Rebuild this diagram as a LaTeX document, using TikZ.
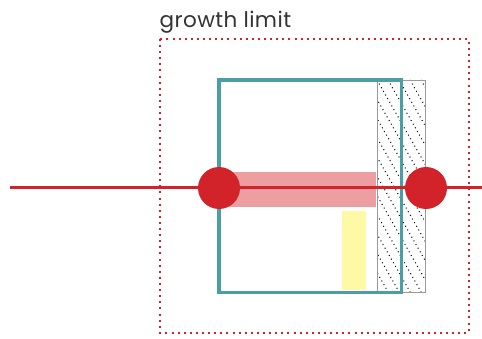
\documentclass[tikz,border=0pt]{standalone}
\usepackage{fontspec}
\setmainfont{Poppins}
\newfontfamily\lblfont[LetterSpace=2]{Poppins}
\definecolor{tealc}{HTML}{4A9EA4}
\definecolor{redc}{HTML}{D2232A}
\definecolor{pinkc}{HTML}{EC9EA1}
\definecolor{yelc}{HTML}{FFF9A6}
\begin{document}
\begin{tikzpicture}[x=1pt,y=-1pt,
  limitbox/.style={draw=redc,line width=2pt,dash pattern=on 2pt off 4.1pt},
  cellbox/.style={draw=tealc,line width=3.5pt},
  wallbox/.style={draw=gray!80,line width=0.8pt},
  hatchline/.style={black,line width=1pt,dash pattern=on 1pt off 3.2pt},
  joint/.style={circle,fill=redc,minimum size=42pt,inner sep=0pt}]
\useasboundingbox (0,0) rectangle (482,339);
% growth limit
\node[anchor=base west,inner sep=0pt,font=\lblfont\fontsize{21.5}{23}\selectfont,text=black!80] (lbl) at (159.5,28) {growth limit};
\draw[limitbox] (160,39) rectangle (468.5,332.5);
% hatched wall
\begin{scope}
\clip (377.5,80) rectangle (425,292);
\foreach \k in {-30,...,10}{
  \draw[hatchline] ({377+\k*11},80) -- ++(140,245);
}
\end{scope}
\draw[wallbox] (377.5,80) rectangle (425,292);
% pink and yellow
\fill[pinkc] (219,172) rectangle (376,207);
\fill[yelc] (342,211) rectangle (366,290);
% teal cell
\draw[cellbox] (219,80) rectangle (401.5,292.5);
% axis line
\coordinate (la) at (10,188);
\coordinate (ra) at (482,188);
\node[joint] (j1) at (219,188) {};
\node[joint] (j2) at (426,188) {};
\draw[redc,line width=3pt] (la) -- (j1) -- (j2) -- (ra);
\end{tikzpicture}
\end{document}
